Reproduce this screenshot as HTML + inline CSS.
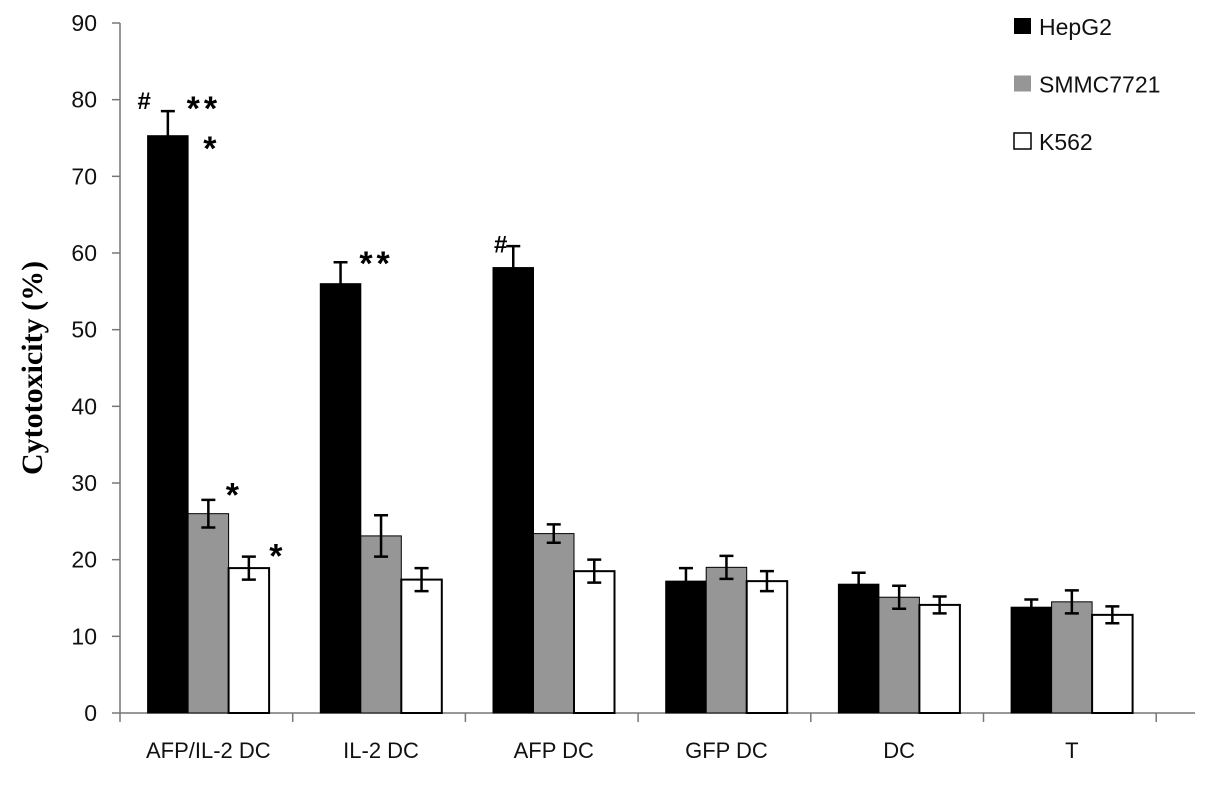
<!DOCTYPE html>
<html><head><meta charset="utf-8"><style>
body{margin:0;background:#fff}
svg text{font-family:"Liberation Sans",sans-serif}
</style></head><body>
<svg id="chart" width="1205" height="787" xmlns="http://www.w3.org/2000/svg"></svg>
<script>
const categories=["AFP/IL-2 DC","IL-2 DC","AFP DC","GFP DC","DC","T"];
const seriesNames=["HepG2","SMMC7721","K562"];
const hepg2=[75.3,56.0,58.1,17.2,16.8,13.8];
const smmc=[26.0,23.1,23.4,19.0,15.1,14.5];
const k562=[18.9,17.4,18.5,17.2,14.1,12.8];
const hepg2Err=[3.2,2.8,2.8,1.7,1.5,1.0];
const smmcErr=[1.8,2.7,1.2,1.5,1.5,1.5];
const k562Err=[1.5,1.5,1.5,1.3,1.1,1.1];
const yTicks=[0,10,20,30,40,50,60,70,80,90];
const annotations=[
 {cat:0,series:0,text:"#",dx:-24,dy:-11},
 {cat:0,series:0,text:"**",dx:36,dy:-11},
 {cat:0,series:0,text:"*",dx:44,dy:29},
 {cat:0,series:1,text:"*",dx:26,dy:-13},
 {cat:0,series:2,text:"*",dx:29,dy:-9},
 {cat:1,series:0,text:"**",dx:36,dy:-7},
 {cat:2,series:0,text:"#",dx:-13,dy:-2}
];
const svg=document.getElementById('chart');
const NS="http://www.w3.org/2000/svg";
const x0=122,band=172.7,y0=713,yTop=23,yMax=90;
const y=v=>y0-(v/yMax)*(y0-yTop);
const xc=i=>x0+band*(i+0.5);
const barW=40.5;
function mk(t,a){const e=document.createElementNS(NS,t);for(const k in a)e.setAttribute(k,a[k]);svg.appendChild(e);return e;}
let ax=mk('line',{x1:120,y1:23,x2:120,y2:y0,stroke:'#777','stroke-width':1.5});


let bx=mk('line',{x1:120,y1:y0,x2:1195,y2:y0,stroke:'#777','stroke-width':1.5});


yTicks.forEach(v=>{
 const t=mk('line',{x1:112,y1:y(v),x2:120,y2:y(v),stroke:'#777','stroke-width':1.5});
 
 
 const l=mk('text',{x:97,y:y(v)+8,'text-anchor':'end','font-size':23,fill:'#111'});
 l.textContent=v;
 
 
});
for(let i=0;i<=categories.length;i++){
 const t=mk('line',{x1:x0+band*i-2,y1:y0,x2:x0+band*i-2,y2:y0+9,stroke:'#777','stroke-width':1.5});
 
 
}
categories.forEach((c,i)=>{
 const l=mk('text',{x:xc(i),y:758,'text-anchor':'middle','font-size':22,fill:'#111'});
 l.textContent=c;
 
 
});
const yt=mk('text',{transform:'translate(42,368) rotate(-90)','text-anchor':'middle','font-size':30,'font-weight':'bold',style:'font-family:"Liberation Serif",serif'});
yt.textContent="Cytotoxicity (%)";


const vals=[hepg2,smmc,k562],errs=[hepg2Err,smmcErr,k562Err];
const fills=['#000','#969696','#fff'];
const barX=(i,s)=>xc(i)-1.5*barW+s*barW;
vals.forEach((arr,s)=>arr.forEach((v,i)=>{
 const b=mk('rect',{x:barX(i,s),y:y(v),width:barW,height:y0-y(v),fill:fills[s],stroke:'#000','stroke-width':s==2?2:1});
 
 
 const cx=barX(i,s)+barW/2,e=errs[s][i];
 const g=mk('path',{d:`M${cx},${y(v+e)}V${y(v-e)}M${cx-7},${y(v+e)}H${cx+7}M${cx-7},${y(v-e)}H${cx+7}`,stroke:'#000','stroke-width':2.5,fill:'none'});
 
 
}));
annotations.forEach(a=>{
 const v=vals[a.series][a.cat]+errs[a.series][a.cat];
 const isHash=a.text=='#';
 const fs=isHash?24:34;
 const cy=y(v)+a.dy;
 const t=mk('text',{x:barX(a.cat,a.series)+barW/2+a.dx,y:cy+(isHash?0.36*fs:0.58*fs),'text-anchor':'middle','font-size':fs,'font-weight':'bold','font-style':isHash?'italic':'normal','letter-spacing':isHash?0:4});
 t.textContent=a.text;
 
 
});
seriesNames.forEach((n,s)=>{
 const yy=18+s*57.5;
 const r=mk('rect',{x:1014,y:yy,width:17,height:16,fill:fills[s],stroke:s==2?'#000':'none','stroke-width':1.5});
 
 
 const t=mk('text',{x:1039,y:yy+17,'font-size':23,fill:'#111'});
 t.textContent=n;
 
 
});
</script>
</body></html>
